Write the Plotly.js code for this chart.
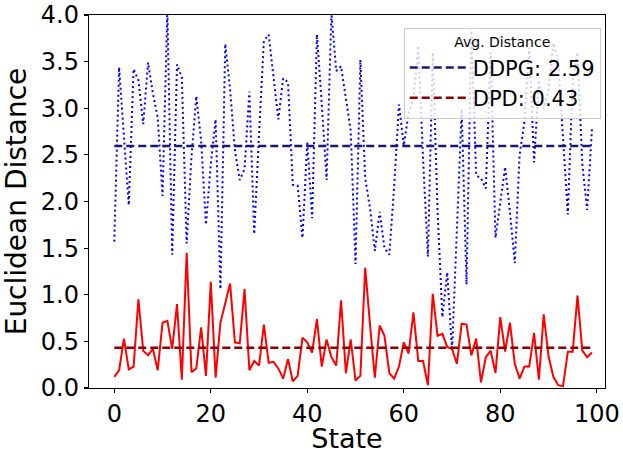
<!DOCTYPE html>
<html>
<head>
<meta charset="utf-8">
<script src="https://cdn.plot.ly/plotly-3.0.1.min.js"></script>
<style>
  html, body { margin: 0; padding: 0; background: #fff; }
  #graph { width: 623px; height: 454px; }
</style>
</head>
<body>
<div id="graph"></div>
<script>
// values, one per state (0..99)
const ddpgDistance = [
  1.57, 3.44, 2.70, 1.96, 3.42, 3.30, 2.83, 3.49, 3.16, 2.90,
  2.06, 4.05, 1.43, 3.47, 3.33, 1.55, 2.48, 3.13, 2.65, 1.75,
  2.40, 2.88, 1.06, 3.69, 3.20, 2.55, 2.23, 2.35, 3.18, 1.65,
  2.72, 3.72, 3.79, 3.30, 2.88, 3.32, 3.28, 2.18, 2.17, 1.61,
  2.64, 1.82, 3.79, 3.05, 2.23, 4.02, 3.40, 3.45, 3.08, 2.76,
  1.33, 3.52, 2.25, 1.93, 1.47, 1.89, 1.50, 1.43, 2.16, 3.04,
  2.60, 2.95, 3.10, 3.67, 2.45, 1.41, 3.60, 1.90, 0.76, 1.24,
  0.40, 1.70, 2.99, 1.11, 3.86, 2.28, 2.25, 2.14, 3.60, 1.61,
  1.97, 2.37, 1.89, 1.34, 2.50, 2.85, 3.65, 2.42, 3.30, 3.00,
  3.20, 3.70, 3.50, 2.70, 1.86, 3.30, 3.60, 2.40, 1.91, 2.78
];
const dpdDistance = [
  0.12, 0.19, 0.53, 0.20, 0.23, 0.95, 0.40, 0.35, 0.42, 0.19,
  0.70, 0.72, 0.42, 0.90, 0.09, 1.45, 0.17, 0.21, 0.65, 0.13,
  1.14, 0.11, 0.70, 0.92, 1.12, 0.49, 0.48, 1.06, 0.19, 0.29,
  0.24, 0.68, 0.27, 0.28, 0.21, 0.10, 0.31, 0.07, 0.13, 0.54,
  0.49, 0.38, 0.74, 0.23, 0.52, 0.33, 0.24, 0.94, 0.16, 0.52,
  0.08, 0.13, 1.29, 0.68, 0.11, 0.67, 0.56, 0.16, 0.10, 0.23,
  0.49, 0.37, 0.81, 0.29, 0.29, 0.03, 1.01, 0.56, 0.58, 0.44,
  0.42, 0.26, 0.69, 0.68, 0.35, 0.53, 0.06, 0.33, 0.40, 0.16,
  0.76, 0.39, 0.70, 0.26, 0.10, 0.23, 0.23, 0.59, 0.09, 0.79,
  0.34, 0.12, 0.03, 0.02, 0.39, 0.39, 0.99, 0.40, 0.33, 0.38
];
const xTicks = [0, 20, 40, 60, 80, 100];
const yTicks = [0, 0.5, 1, 1.5, 2, 2.5, 3, 3.5, 4];
const legendTitle = "Avg. Distance";

const states = ddpgDistance.map((_, i) => i);
const mean = (arr) => arr.reduce((acc, v) => acc + v, 0) / arr.length;
const avgDDPG = mean(ddpgDistance);
const avgDPD = mean(dpdDistance);

const FONT = "DejaVu Sans, sans-serif";

const avgLine = (name, avg, color) => ({
  x: [states[0], states[states.length - 1]],
  y: [avg, avg],
  mode: "lines",
  name: `${name}: ${avg.toFixed(2)}`,
  line: { color: color, width: 2.5, dash: "8px,4px" },
  hoverinfo: "skip",
  type: "scatter",
});

const traces = [
  {
    x: states,
    y: ddpgDistance,
    mode: "lines",
    line: { color: "#0000ff", width: 2, dash: "2px,3px" },
    showlegend: false,
    type: "scatter",
  },
  {
    x: states,
    y: dpdDistance,
    mode: "lines",
    line: { color: "#ff0000", width: 2 },
    showlegend: false,
    type: "scatter",
  },
  avgLine("DDPG", avgDDPG, "#191970"),
  avgLine("DPD", avgDPD, "#8b0000"),
];

const axisBase = {
  ticks: "outside",
  ticklen: 4,
  tickwidth: 1.2,
  tickcolor: "black",
  showline: true,
  mirror: true,
  linecolor: "black",
  linewidth: 1.2,
  showgrid: false,
  zeroline: false,
  ticklabeloverflow: "allow",
  tickfont: { size: 24, color: "black" },
};

const layout = {
  width: 623,
  height: 454,
  margin: { l: 89, r: 18, t: 15, b: 66 },
  paper_bgcolor: "white",
  plot_bgcolor: "white",
  font: { family: FONT, color: "black" },
  showlegend: true,
  xaxis: {
    ...axisBase,
    range: [-5.24, 101.7],
    tickvals: xTicks,
    ticktext: xTicks.map(String),
    title: { text: "State", font: { size: 27 }, standoff: 10 },
  },
  yaxis: {
    ...axisBase,
    range: [0, 4],
    tickvals: yTicks,
    ticktext: yTicks.map((v) => v.toFixed(1)),
    title: { text: "Euclidean Distance", font: { size: 28 }, standoff: 13 },
  },
  legend: {
    x: 0.61,
    y: 0.965,
    xanchor: "left",
    yanchor: "top",
    bgcolor: "rgba(255,255,255,0.8)",
    bordercolor: "#cccccc",
    borderwidth: 1,
    itemwidth: 58,
    font: { size: 21 },
    title: { text: legendTitle, font: { size: 14 }, side: "top center" },
  },
};

Plotly.newPlot("graph", traces, layout, { staticPlot: true });
</script>
</body>
</html>
